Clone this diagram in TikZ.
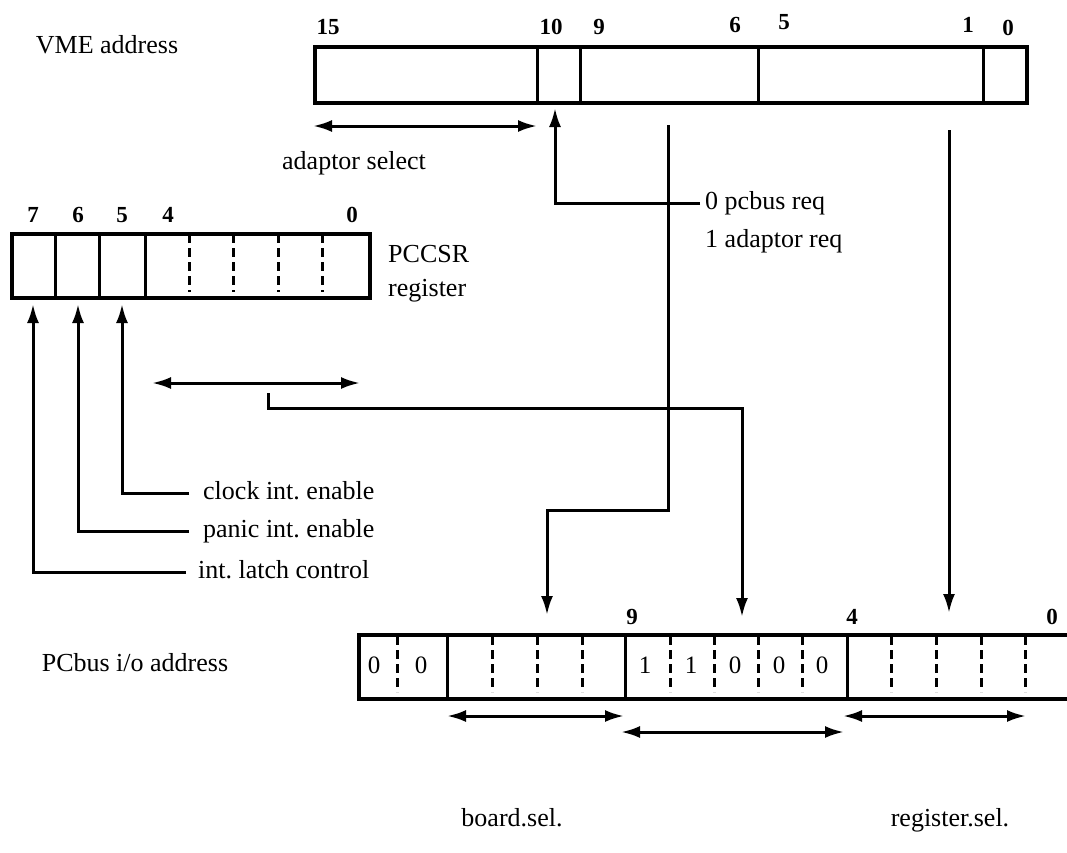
\documentclass[tikz,border=0pt]{standalone}
\usepackage{fontspec}
\setmainfont{Liberation Serif}
\usetikzlibrary{arrows.meta}
\frenchspacing
\begin{document}
\begin{tikzpicture}[x=1pt,y=-1pt,
  regbox/.style={draw, line width=3.6pt, inner sep=0pt, anchor=north west},
  sep/.style={line width=3pt},
  dsep/.style={line width=3pt, dash pattern=on 9pt off 5pt},
  arr/.style={line width=3pt, -{Latex[length=19pt,width=12pt]}},
  dbl/.style={line width=3pt, {Latex[length=19pt,width=12pt]}-{Latex[length=19pt,width=12pt]}},
  lbl/.style={font=\fontsize{26}{30}\selectfont, inner sep=0pt, text height=18pt, text depth=5pt},
  bitn/.style={font=\fontsize{23}{27}\selectfont\bfseries, inner sep=0pt},
  cell/.style={font=\fontsize{25}{28}\selectfont, inner sep=0pt}]
\useasboundingbox (0,0) rectangle (1067,852);
\clip (0,0) rectangle (1067,852);

% ---------- VME address ----------
\node[lbl] (vmelbl) at (107,47) {VME address};
\node[regbox, minimum width=712pt, minimum height=56pt] (vme) at (313,45) {};
\foreach \x in {537,580,758,983} \draw[sep] (\x,45) -- (\x,101);
\node[bitn] (v15) at (328,27) {15};
\node[bitn] (v10) at (551,27) {10};
\node[bitn] (v9) at (599,27) {9};
\node[bitn] (v6) at (735,25) {6};
\node[bitn] (v5) at (784,22) {5};
\node[bitn] (v1) at (968,25) {1};
\node[bitn] (v0) at (1008,28) {0};

\coordinate (as1) at (313,126);
\coordinate (as2) at (537,126);
\draw[dbl] (as1) -- (as2);
\node[lbl] (adsel) at (354,163) {adaptor select};

\node[lbl, anchor=west] (req) at (705,203) {0 pcbus req};
\node[lbl, anchor=west] (req2) at (705,241) {1 adaptor req};
\coordinate (b10tip) at (555,108);
\draw[arr] ([xshift=-5pt]req.west) -| (b10tip);

% ---------- PCCSR register ----------
\node[regbox, minimum width=358pt, minimum height=64pt] (pccsr) at (10,232) {};
\foreach \x in {55,99,145} \draw[sep] (\x,232) -- (\x,296);
\foreach \x in {189,233,278,322} \draw[dsep] (\x,234) -- (\x,292);
\node[bitn] (p7) at (33,215) {7};
\node[bitn] (p6) at (78,215) {6};
\node[bitn] (p5) at (122,215) {5};
\node[bitn] (p4) at (168,215) {4};
\node[bitn] (p0) at (352,215) {0};
\node[lbl, anchor=west] (pcname) at (388,256) {PCCSR};
\node[lbl, anchor=west] (pcname2) at (388,290) {register};

\coordinate (pa1) at (152,383);
\coordinate (pa2) at (360,383);
\draw[dbl] (pa1) -- (pa2);

\node[lbl, anchor=west] (clk) at (203,493) {clock int. enable};
\node[lbl, anchor=west] (pan) at (203,531) {panic int. enable};
\node[lbl, anchor=west] (lat) at (198,572) {int. latch control};
\coordinate (t5) at (122,304);
\coordinate (t6) at (78,304);
\coordinate (t7) at (33,304);
\draw[arr] ([xshift=-14pt]clk.west) -| (t5);
\draw[arr] ([xshift=-14pt]pan.west) -| (t6);
\draw[arr] ([xshift=-12pt]lat.west) -| (t7);

% ---------- PCbus i/o address ----------
\node[lbl] (pclbl) at (135,665) {PCbus i/o address};
\node[regbox, minimum width=760pt, minimum height=64pt] (pcbus) at (357,633) {};
\foreach \x in {447,625,847} \draw[sep] (\x,633) -- (\x,697);
\foreach \x in {397,492,537,582,670,714,758,802,891,936,981,1025} \draw[dsep] (\x,636) -- (\x,692);
\node[bitn] (c9) at (632,617) {9};
\node[bitn] (c4) at (852,617) {4};
\node[bitn] (c0) at (1052,617) {0};
\foreach \x/\v in {374/0,421/0,645/1,691/1,735/0,779/0,822/0}
  \node[cell] at (\x,665) {\v};

\coordinate (bs1) at (447,716);
\coordinate (bs2) at (624,716);
\draw[dbl] (bs1) -- (bs2);
\coordinate (ms1) at (621,732);
\coordinate (ms2) at (844,732);
\draw[dbl] (ms1) -- (ms2);
\coordinate (rs1) at (843,716);
\coordinate (rs2) at (1026,716);
\draw[dbl] (rs1) -- (rs2);
\node[lbl] (bsel) at (512,820) {board.sel.};
\node[lbl] (rsel) at (950,820) {register.sel.};

% ---------- connectors ----------
\coordinate (s96) at (668,125);
\coordinate (k96) at (547,510);
\coordinate (tb) at (547,615);
\draw[arr] (s96) |- (k96) -- (tb);

\coordinate (s4) at (268,393);
\coordinate (k4) at (742,408);
\coordinate (tm) at (742,617);
\draw[arr] (s4) |- (k4) -- (tm);

\coordinate (s1) at (949,130);
\coordinate (tr) at (949,613);
\draw[arr] (s1) -- (tr);
\end{tikzpicture}
\end{document}
